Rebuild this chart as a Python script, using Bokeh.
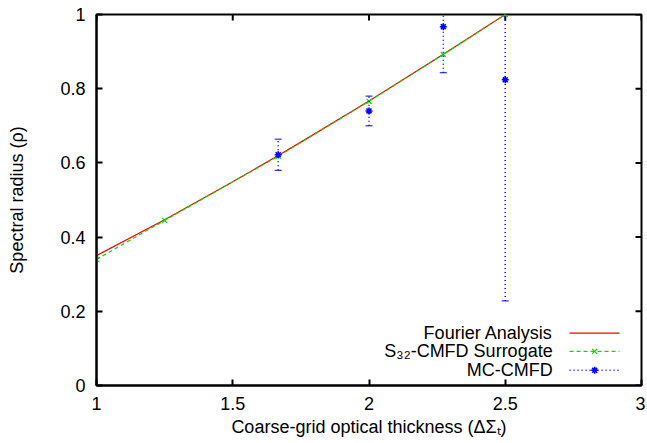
import math
from bokeh.plotting import figure
from bokeh.models import FixedTicker, Range1d, ColumnDataSource
from bokeh.core.properties import value
from bokeh.embed import file_html
from bokeh.resources import INLINE

# ---- data ----
fourier_x = [1.0, 1.25, 1.5, 1.6667, 1.75, 2.0, 2.2727, 2.5]
fourier_y = [0.350, 0.447, 0.549, 0.620, 0.656, 0.767, 0.893, 1.0]

surr_x = [1.0, 1.25, 1.6667, 2.0, 2.2727, 2.5]
surr_y = [0.340, 0.445, 0.618, 0.766, 0.892, 1.0]

mc_x = [1.6667, 2.0, 2.2727, 2.5]
mc_y = [0.622, 0.740, 0.967, 0.824]
mc_err = [0.042, 0.040, 0.124, 0.596]

x_ticks = [1, 1.5, 2, 2.5, 3]
x_tick_labels = ["1", "1.5", "2", "2.5", "3"]
y_ticks = [0, 0.2, 0.4, 0.6, 0.8, 1.0]
y_tick_labels = ["0", "0.2", "0.4", "0.6", "0.8", "1"]

legend_labels = ["Fourier Analysis", "S\u2083\u2082-CMFD Surrogate", "MC-CMFD"]

FONT = "Liberation Sans"
FS = "18px"
RED = "#ff0000"
GREEN = "#00dd00"
BLUE = "#0000ff"

p = figure(width=645, height=442, output_backend="svg", toolbar_location=None,
           x_range=Range1d(1, 3), y_range=Range1d(0, 1),
           min_border_left=96, min_border_right=4, min_border_top=14, min_border_bottom=57)
p.background_fill_color = "white"
p.border_fill_color = "white"
p.grid.visible = False
p.outline_line_color = "black"
p.outline_line_width = 2

for ax in (p.xaxis[0], p.yaxis[0]):
    ax.major_tick_in = 6
    ax.major_tick_out = 0
    ax.minor_tick_in = 0
    ax.minor_tick_out = 0
    ax.major_tick_line_width = 2
    ax.axis_line_width = 2
    ax.major_label_text_font = FONT
    ax.major_label_text_font_size = FS
    ax.major_label_text_color = "black"
    ax.axis_label_text_font = FONT
    ax.axis_label_text_font_size = FS
    ax.axis_label_text_font_style = "normal"
    ax.axis_label_text_color = "black"

p.xaxis[0].ticker = FixedTicker(ticks=x_ticks)
p.xaxis[0].major_label_overrides = dict(zip(x_ticks, x_tick_labels))
p.xaxis[0].major_label_standoff = 11
p.xaxis[0].axis_label = "Coarse-grid optical thickness (\u0394\u03a3\u209c)"
p.xaxis[0].axis_label_standoff = 4

p.yaxis[0].ticker = FixedTicker(ticks=y_ticks)
p.yaxis[0].major_label_overrides = dict(zip(y_ticks, y_tick_labels))
p.yaxis[0].major_label_standoff = 11
p.yaxis[0].axis_label = "Spectral radius (\u03c1)"
p.yaxis[0].axis_label_standoff = 30

# mirrored inward ticks on top and right (half of each dash is clipped by the frame)
p.scatter(x=x_ticks, y=[1.0] * len(x_ticks), marker="dash", angle=math.pi / 2,
          size=12, line_color="black", line_width=2)
p.scatter(x=[3.0] * len(y_ticks), y=y_ticks, marker="dash",
          size=12, line_color="black", line_width=2)

# Fourier analysis
p.line(fourier_x, fourier_y, line_color=RED, line_width=1.2)

# Surrogate
p.line(surr_x, surr_y, line_color=GREEN, line_width=1.2, line_dash="4 3")
p.scatter(surr_x, surr_y, marker="x", size=7, line_color=GREEN, line_width=1.2)

# MC-CMFD with error bars
lower = [y - e for y, e in zip(mc_y, mc_err)]
upper = [y + e for y, e in zip(mc_y, mc_err)]
src = ColumnDataSource(dict(x=mc_x, y=mc_y, lo=lower, hi=upper))
p.segment(x0="x", y0="lo", x1="x", y1="hi", source=src, line_color=BLUE,
          line_width=1.5, line_dash="1 3")
p.scatter(x="x", y="lo", source=src, marker="dash", size=7, line_color=BLUE, line_width=1)
p.scatter(x="x", y="hi", source=src, marker="dash", size=7, line_color=BLUE, line_width=1)
p.scatter(x="x", y="y", source=src, marker="asterisk", size=7, line_color=BLUE, line_width=1.6)

# manual legend (gnuplot style: text left, sample right)
leg_text_x = 2.674
leg_s0, leg_s1, leg_mid = 2.736, 2.919, 2.828
leg_rows = [0.141, 0.092, 0.041]
p.text(x=[leg_text_x] * 3, y=leg_rows, text=legend_labels, text_align="right",
       text_baseline="middle", text_font=value(FONT), text_font_size=FS, text_color="black")
p.line([leg_s0, leg_s1], [leg_rows[0]] * 2, line_color=RED, line_width=1.2)
p.line([leg_s0, leg_s1], [leg_rows[1]] * 2, line_color=GREEN, line_width=1.2, line_dash="4 3")
p.scatter([leg_mid], [leg_rows[1]], marker="x", size=7, line_color=GREEN, line_width=1.2)
p.line([leg_s0, leg_s1], [leg_rows[2]] * 2, line_color=BLUE, line_width=1.5, line_dash="1 3")
p.scatter([leg_mid], [leg_rows[2]], marker="asterisk", size=7, line_color=BLUE, line_width=1.6)

open("out.html", "w").write(file_html(p, INLINE))
